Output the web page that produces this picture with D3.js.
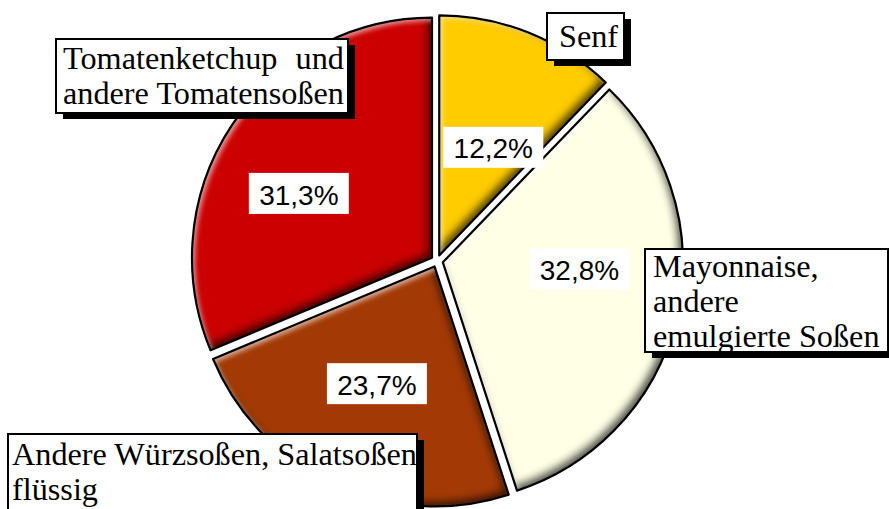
<!DOCTYPE html>
<html><head><meta charset="utf-8">
<script src="https://cdn.jsdelivr.net/npm/d3@7"></script>
<style>html,body{margin:0;padding:0;background:#fff;} svg{display:block;}</style>
</head><body>
<svg id="chart" width="889" height="509"></svg>
<script>
// ---------- data ----------
const categories = ["Senf", "Mayonnaise, andere emulgierte Soßen", "Andere Würzsoßen, Salatsoßen flüssig", "Tomatenketchup und andere Tomatensoßen"];
const shares = [12.2, 32.8, 23.7, 31.3];
const sliceColors = ["#FFCC00", "#FFFFE6", "#A33A06", "#CC0000"];
const categoryLines = [["Senf"], ["Mayonnaise,", "andere", "emulgierte Soßen"], ["Andere Würzsoßen, Salatsoßen", "flüssig"], ["Tomatenketchup und", "andere Tomatensoßen"]];

// ---------- layout ----------
const W = 889, H = 509, cx = 437, cy = 261, R = 240, explode = 6;
const pctNudge = [[2, 21], [1, -24.5], [0.5, -9.3], [-17.3, 12.9]];
const calloutBoxes = [
  {x: 547, y: 13, w: 77, h: 47, tx: 559, ty: 47},
  {x: 645, y: 249, w: 243, h: 103, tx: 653, ty: 277},
  {x: 8, y: 434, w: 409, h: 90, tx: 12, ty: 465},
  {x: 56, y: 39, w: 292, h: 74, tx: 63, ty: 69, justify: true}
];
const lineGap = 35, serifSize = 31, serifStretch = 1.04;

const svg = d3.select("#chart");
const defs = svg.append("defs");
defs.html(`
<filter id="bevel" x="-10%" y="-10%" width="120%" height="120%" color-interpolation-filters="sRGB">
  <feFlood flood-color="#000" flood-opacity="0.7" result="black"/>
  <feComposite in="black" in2="SourceAlpha" operator="out" result="outside"/>
  <feGaussianBlur in="outside" stdDeviation="4" result="outsideBlur"/>
  <feOffset in="outsideBlur" dx="-4" dy="-4" result="dOff"/>
  <feComposite in="dOff" in2="SourceAlpha" operator="in" result="darkEdge"/>
  <feFlood flood-color="#fff" flood-opacity="0.6" result="white"/>
  <feComposite in="white" in2="SourceAlpha" operator="out" result="outsideW"/>
  <feGaussianBlur in="outsideW" stdDeviation="2.5" result="outsideWBlur"/>
  <feOffset in="outsideWBlur" dx="3" dy="3" result="lOff"/>
  <feComposite in="lOff" in2="SourceAlpha" operator="in" result="lightEdge"/>
  <feMerge><feMergeNode in="SourceGraphic"/><feMergeNode in="darkEdge"/><feMergeNode in="lightEdge"/></feMerge>
</filter>`);

const pie = d3.pie().sort(null).value(d => d)(shares);
const arc = d3.arc().innerRadius(0).outerRadius(R);
const de = d3.formatLocale({decimal: ",", thousands: ".", grouping: [3], currency: ["", " €"]});
const fmt = de.format(".1f");

const color = d3.scaleOrdinal().domain(categories).range(sliceColors);

const g = svg.append("g").attr("transform", `translate(${cx},${cy})`);
const slices = g.selectAll("g.slice").data(pie).join("g")
  .attr("class", "slice")
  .attr("transform", d => {
    const a = (d.startAngle + d.endAngle) / 2;
    return `translate(${explode * Math.sin(a)},${-explode * Math.cos(a)})`;
  });
slices.append("path").attr("d", arc).attr("fill", (d, i) => color(categories[i])).attr("filter", "url(#bevel)");
slices.append("path").attr("d", arc).attr("fill", "none").attr("stroke", "#000").attr("stroke-width", 2.2).attr("stroke-linejoin", "round");

// percentage labels
const labelArc = d3.arc().innerRadius(R * 0.58).outerRadius(R * 0.58);
pie.forEach((d, i) => {
  const a = (d.startAngle + d.endAngle) / 2;
  const c = labelArc.centroid(d);
  const x = cx + explode * Math.sin(a) + c[0] + pctNudge[i][0];
  const y = cy - explode * Math.cos(a) + c[1] + pctNudge[i][1];
  const lg = svg.append("g").attr("transform", `translate(${x},${y})`);
  lg.append("rect").attr("x", -50).attr("y", -20.5).attr("width", 100).attr("height", 41).attr("fill", "#fff");
  lg.append("text").attr("text-anchor", "middle").attr("dy", "0.36em").attr("y", 1)
    .attr("font-family", "Liberation Sans, Arial, sans-serif").attr("font-size", 28).attr("fill", "#000")
    .text(fmt(d.data) + "%");
});

// category callouts
function stretchText(sel) {
  const len = sel.node().getComputedTextLength();
  sel.attr("textLength", len * serifStretch).attr("lengthAdjust", "spacingAndGlyphs");
  return len * serifStretch;
}
calloutBoxes.forEach((b, i) => {
  const cg = svg.append("g");
  cg.append("rect").attr("x", b.x + 7).attr("y", b.y + 6).attr("width", b.w).attr("height", b.h).attr("fill", "#000");
  cg.append("rect").attr("x", b.x).attr("y", b.y).attr("width", b.w).attr("height", b.h).attr("fill", "#fff").attr("stroke", "#000").attr("stroke-width", 2);
  const lines = categoryLines[i];
  const mk = (str, x, y) => cg.append("text").attr("x", x).attr("y", y)
      .attr("font-family", "Liberation Serif, Times New Roman, serif").attr("font-size", serifSize).attr("fill", "#000").text(str);
  if (b.justify) {
    const last = mk(lines[1], b.tx, b.ty + lineGap);
    const fullW = stretchText(last);
    const words = lines[0].split(" ");
    const first = mk(words.slice(0, -1).join(" "), b.tx, b.ty);
    stretchText(first);
    const endWord = mk(words[words.length - 1], b.tx, b.ty);
    const ew = stretchText(endWord);
    endWord.attr("x", b.tx + fullW - ew);
  } else {
    lines.forEach((ln, j) => stretchText(mk(ln, b.tx, b.ty + j * lineGap)));
  }
});
</script>
</body></html>
